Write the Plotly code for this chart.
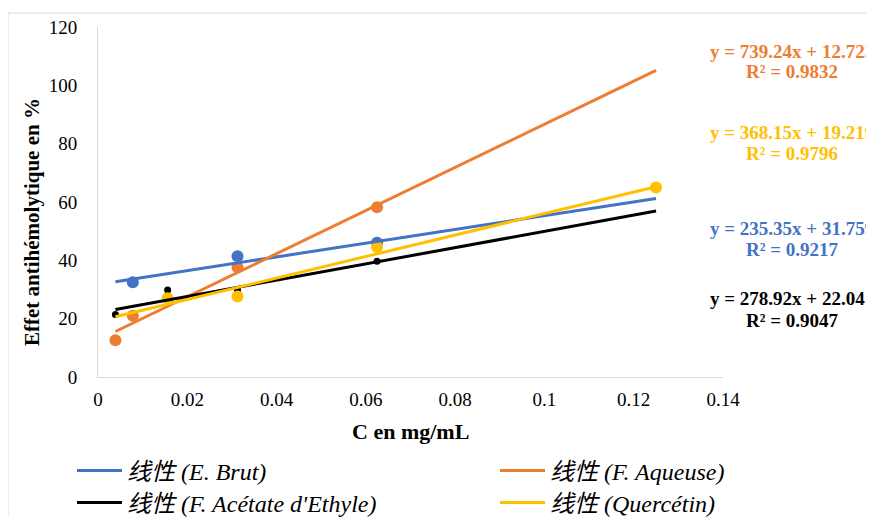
import plotly.graph_objects as go

# ---- data ----
names = ["E. Brut", "F. Aqueuse", "F. Acétate d'Ethyle", "Quercétin"]
colors = ["#4472C4", "#ED7D31", "#000000", "#FFC000"]

brut_x = [0.0078, 0.03125, 0.0625]
brut_y = [32.5, 41.4, 46.0]
aq_x = [0.0039, 0.0078, 0.03125, 0.0625]
aq_y = [12.6, 21.0, 37.6, 58.2]
ac_x = [0.0039, 0.0156, 0.03125, 0.0625]
ac_y = [21.4, 29.8, 29.8, 39.7]
q_x = [0.0156, 0.03125, 0.0625, 0.125]
q_y = [27.0, 27.6, 44.6, 65.0]

slopes = [235.35, 739.24, 278.92, 368.15]
intercepts = [31.759, 12.723, 22.041, 19.219]
r2 = ["0.9217", "0.9832", "0.9047", "0.9796"]
trend_range = [0.0039, 0.125]

x_ticks = [0, 0.02, 0.04, 0.06, 0.08, 0.1, 0.12, 0.14]
x_ticktext = ["0", "0.02", "0.04", "0.06", "0.08", "0.1", "0.12", "0.14"]
y_ticks = [0, 20, 40, 60, 80, 100, 120]

pts = [(brut_x, brut_y), (aq_x, aq_y), (ac_x, ac_y), (q_x, q_y)]
msizes = [12, 12, 7, 12]

fig = go.Figure()
for (xs, ys), c, s in zip(pts, colors, msizes):
    fig.add_trace(go.Scatter(x=xs, y=ys, mode="markers",
                             marker=dict(color=c, size=s, line=dict(width=0)),
                             showlegend=False, hoverinfo="skip"))

legend_ids = ["legend", "legend2", "legend3", "legend4"]
for n, c, a, b, lg in zip(names, colors, slopes, intercepts, legend_ids):
    fig.add_trace(go.Scatter(x=trend_range, y=[a * x + b for x in trend_range],
                             mode="lines", line=dict(color=c, width=3),
                             name="线性 (" + n + ")", legend=lg))

# screen px helpers (page has 8px body offset)
OFF = 8
L, R, T, B = 98 - OFF, 723 - OFF, 27 - OFF, 377 - OFF
def xp(px): return (px - OFF - L) / (R - L)
def yp(py): return (B - (py - OFF)) / (B - T)

# equation labels: (y px of eq line, y px of R² line, series index)
eq_pos = [(228, 249, 0), (52, 72, 1), (298, 320, 2), (132, 153, 3)]
for y1, y2, i in eq_pos:
    for yy, txt in ((y1, f"y = {slopes[i]:.2f}x + {intercepts[i]}"), (y2, f"R² = {r2[i]}")):
        fig.add_annotation(x=xp(792), y=yp(yy), xref="paper", yref="paper",
                           xanchor="center", yanchor="middle", showarrow=False,
                           text=f"<b>{txt}</b>",
                           font=dict(size=19, color=colors[i]))

# axis titles
fig.add_annotation(x=xp(32), y=yp(222), xref="paper", yref="paper", textangle=-90,
                   xanchor="center", yanchor="middle", showarrow=False,
                   text="<b>Effet antihémolytique en %</b>", font=dict(size=21))
fig.add_annotation(x=xp(410), y=yp(432), xref="paper", yref="paper",
                   xanchor="center", yanchor="middle", showarrow=False,
                   text="<b>C en mg/mL</b>", font=dict(size=22))

fig.add_shape(type="rect", xref="paper", yref="paper",
              x0=xp(8), x1=xp(900), y0=yp(540), y1=yp(13),
              line=dict(color="#D9D9D9", width=1))

font_serif = '"Liberation Serif", "Times New Roman", "Noto Sans CJK SC", serif'
leg_common = dict(orientation="h", xanchor="left", yanchor="middle",
                  font=dict(size=24, style="italic"), itemwidth=45,
                  bgcolor="rgba(0,0,0,0)")
col_x = [72, 495]
row_y = [471, 503]
fig.update_layout(
    width=874, height=517,
    margin=dict(l=L, r=874 - R, t=T, b=517 - B, autoexpand=False),
    paper_bgcolor="white", plot_bgcolor="white",
    font=dict(family=font_serif, size=19, color="#000000"),
    xaxis=dict(range=[0, 0.14], tickvals=x_ticks, ticktext=x_ticktext,
               showgrid=False, zeroline=False, showline=True, linecolor="#D9D9D9",
               linewidth=1, ticks="", ticklabelstandoff=5,
               tickfont=dict(size=19)),
    yaxis=dict(range=[0, 120], tickvals=y_ticks, showgrid=False, zeroline=False,
               showline=True, linecolor="#D9D9D9", linewidth=1, ticks="",
               ticklabelstandoff=16, tickfont=dict(size=19)),
    legend=dict(x=xp(col_x[0]), y=yp(row_y[0]), **leg_common),
    legend2=dict(x=xp(col_x[1]), y=yp(row_y[0]), **leg_common),
    legend3=dict(x=xp(col_x[0]), y=yp(row_y[1]), **leg_common),
    legend4=dict(x=xp(col_x[1]), y=yp(row_y[1]), **leg_common),
    showlegend=True,
)

fig.write_html("out.html")
